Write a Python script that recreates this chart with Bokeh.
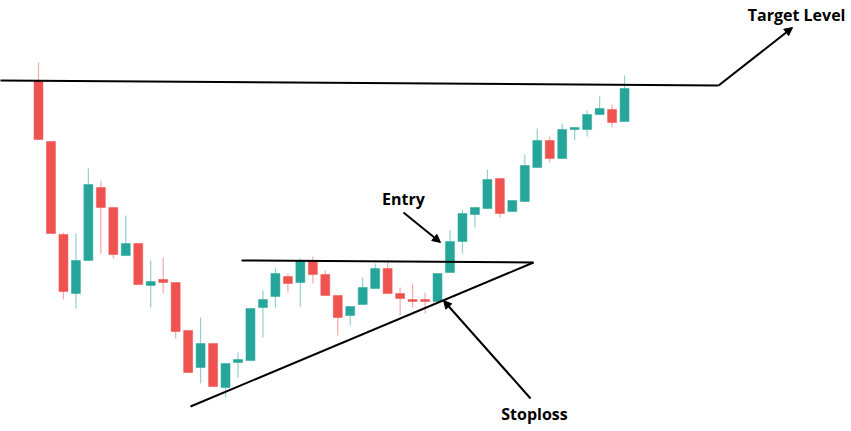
from bokeh.plotting import figure
from bokeh.models import Range1d, ColumnDataSource, Arrow, NormalHead, Label
from bokeh.embed import file_html
from bokeh.resources import INLINE

# ---- candle data (price units) ----
opens  = [351, 290, 197, 138, 171, 244, 224, 176, 188, 146, 152, 149, 101, 64, 88, 44,
          69, 71, 124, 135, 155, 149, 171, 157, 136, 116, 127, 143, 163, 138, 132, 132,
          130, 159, 190, 217, 223, 253, 220, 230, 264, 291, 273, 302, 302, 317, 322, 310]
closes = [292, 198, 140, 171, 247, 224, 177, 188, 147, 150, 149, 100, 59, 88, 45, 68,
          72, 123, 132, 158, 148, 171, 157, 136, 114, 125, 144, 163, 138, 133, 130, 130,
          158, 190, 218, 224, 252, 218, 231, 266, 291, 273, 302, 304, 317, 323, 309, 343]
highs  = [369, 290, 199, 198, 263, 251, 224, 216, 188, 171, 174, 149, 101, 114, 88, 68,
          79, 123, 141, 164, 158, 173, 175, 161, 136, 125, 154, 168, 169, 144, 148, 139,
          158, 201, 222, 224, 262, 253, 231, 277, 303, 295, 308, 304, 321, 335, 327, 356]
lows   = [292, 198, 132, 123, 171, 178, 173, 176, 147, 124, 138, 93, 59, 48, 45, 34,
          54, 71, 94, 124, 139, 125, 148, 136, 96, 106, 127, 143, 138, 116, 124, 118,
          130, 159, 178, 204, 223, 214, 220, 230, 264, 269, 273, 291, 295, 317, 304, 310]

# ---- annotation levels / anchors (index, price) ----
target_line_x = [-3.2, 54.54]
target_line_y = [351, 346]
target_arrow = (54.54, 346, 60.47, 404)
target_label = (60.8, 417, "Target Level")
resistance_x = [16.28, 39.70]
resistance_y = [171, 169]
support_x = [12.19, 39.70]
support_y = [25, 169]
entry_arrow = (29.27, 219, 32.24, 189)
entry_label = (29.27, 233, "Entry")
stop_arrow = (39.46, 33, 32.48, 131)
stop_label = (39.78, 18, "Stoploss")

UP = "#26a69a"
DOWN = "#ef5350"

idx = list(range(len(opens)))
colors = [UP if c >= o else DOWN for o, c in zip(opens, closes)]
tops = [max(o, c) for o, c in zip(opens, closes)]
bots = [min(o, c) for o, c in zip(opens, closes)]
bots = [b if t - b >= 1.5 else t - 1.5 for t, b in zip(tops, bots)]

src = ColumnDataSource(dict(x=idx, top=tops, bottom=bots, high=highs, low=lows, color=colors))

p = figure(width=851, height=431, output_backend="svg", toolbar_location=None,
           x_range=Range1d(-3.048, 65.20), y_range=Range1d(0, 431),
           min_border=0, min_border_left=0, min_border_right=0,
           min_border_top=0, min_border_bottom=0)
p.axis.visible = False
p.grid.visible = False
p.outline_line_color = None
p.background_fill_color = "white"
p.border_fill_color = "white"

p.segment(x0="x", y0="high", x1="x", y1="low", color="color", line_width=1.2,
          line_alpha=0.5, source=src)
p.vbar(x="x", top="top", bottom="bottom", width=0.72, fill_color="color",
       line_color="color", line_width=0.5, source=src)

p.line(target_line_x, target_line_y, line_color="black", line_width=2)
p.line(resistance_x, resistance_y, line_color="black", line_width=2)
p.line(support_x, support_y, line_color="black", line_width=2)

for (x0, y0, x1, y1) in [target_arrow, entry_arrow, stop_arrow]:
    p.add_layout(Arrow(end=NormalHead(size=8, fill_color="black", line_color="black"),
                       x_start=x0, y_start=y0, x_end=x1, y_end=y1,
                       line_color="black", line_width=2))

for (x, y, t) in [target_label, entry_label, stop_label]:
    p.add_layout(Label(x=x, y=y, text=t, text_align="center", text_baseline="middle",
                       text_font="Open Sans", text_font_style="bold",
                       text_font_size="16px", text_color="black"))

open("out.html", "w").write(file_html(p, INLINE))
